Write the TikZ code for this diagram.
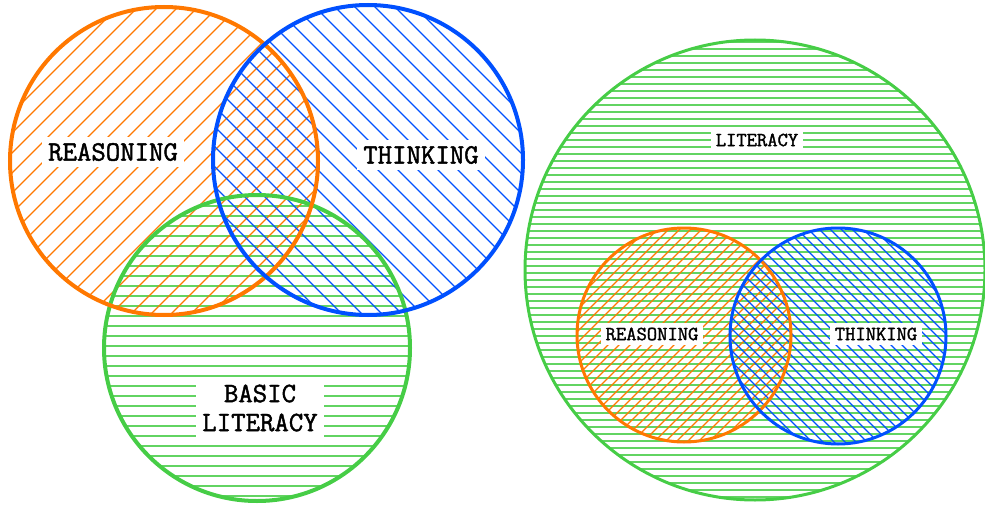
\documentclass[tikz,border=0pt]{standalone}
\usepackage{fontspec}
\setmonofont{Latin Modern Mono}[AutoFakeBold=1.6]
\usepackage{tikz}
\definecolor{rsnorange}{RGB}{255,120,0}
\definecolor{thkblue}{RGB}{0,80,255}
\definecolor{litgreen}{RGB}{70,205,70}

\begin{document}
\begin{tikzpicture}[x=1pt, y=-1pt,
    ring/.style={line width=4pt},
    thinring/.style={line width=3pt},
    hatch/.style={line width=1.2pt},
    stripe/.style={line width=2pt, litgreen!85},
    biglabel/.style={fill=white, inner sep=6pt, align=center, font=\ttfamily\bfseries\fontsize{28}{29}\selectfont},
    smalllabel/.style={fill=white, inner sep=5pt, font=\ttfamily\bfseries\fontsize{20}{20}\selectfont}]
        \useasboundingbox (0,0) rectangle (985,508);

        % Left diagram: fills
        \begin{scope}
            \clip (257,348) circle (153pt);
            \foreach \y in {196,206,...,506}
                \draw[stripe] (100,\y) -- (415,\y);
        \end{scope}
        \begin{scope}
            \clip (164,161) circle (154pt);
            \foreach \k in {-16,...,16}
                \draw[hatch, rsnorange] ({164+\k*20-160},321) -- ({164+\k*20+160},1);
        \end{scope}
        \begin{scope}
            \clip (368,160) circle (155pt);
            \foreach \k in {-16,...,16}
                \draw[hatch, thkblue] ({368+\k*20-160},0) -- ({368+\k*20+160},320);
        \end{scope}

        % Left diagram: outlines
        \draw[ring, litgreen] (257,348) circle (153pt);
        \draw[ring, rsnorange] (164,161) circle (154pt);
        \draw[ring, thkblue] (368,160) circle (155pt);

        % Right diagram: fills
        \begin{scope}
            \clip (755,270) circle (230pt);
            \foreach \y in {42,49,...,503}
                \draw[stripe] (520,\y) -- (990,\y);
        \end{scope}
        \begin{scope}
            \clip (684,335) circle (107pt);
            \foreach \k in {-20,...,20}
                \draw[hatch, rsnorange] ({684+\k*11-110},445) -- ({684+\k*11+110},225);
        \end{scope}
        \begin{scope}
            \clip (838,336) circle (108pt);
            \foreach \k in {-20,...,20}
                \draw[hatch, thkblue] ({838+\k*11-110},226) -- ({838+\k*11+110},446);
        \end{scope}

        % Right diagram: outlines
        \draw[thinring, litgreen] (755,270) circle (230pt);
        \draw[thinring, rsnorange] (684,335) circle (107pt);
        \draw[thinring, thkblue] (838,336) circle (108pt);

        % Labels
        \node[biglabel] (reasonL) at (113,152) {REASONING};
        \node[biglabel] (thinkL) at (421,155) {THINKING};
        \node[biglabel] (basicL) at (260,408) {BASIC\\LITERACY};
        \node[smalllabel] (litR) at (757,140) {LITERACY};
        \node[smalllabel] (reasonR) at (652,334) {REASONING};
        \node[smalllabel] (thinkR) at (876,334) {THINKING};
    \end{tikzpicture}
\end{document}
